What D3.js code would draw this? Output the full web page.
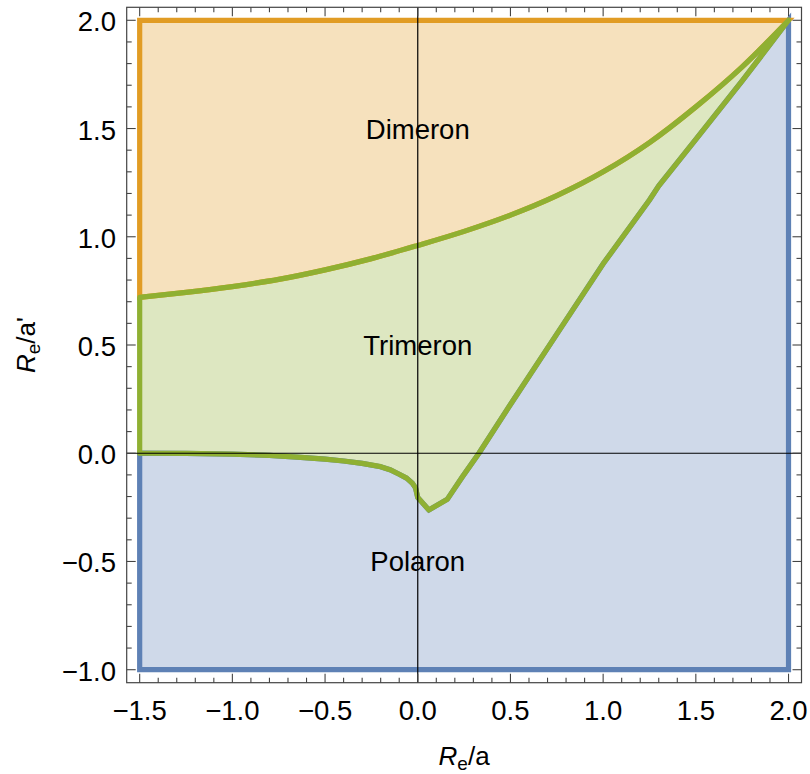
<!DOCTYPE html>
<html>
<head>
<meta charset="utf-8">
<script src="https://cdn.jsdelivr.net/npm/d3@7"></script>
<style>
  html, body { margin: 0; padding: 0; background: #ffffff; }
  svg { display: block; }
  text { font-family: "Liberation Sans", Arial, Helvetica, sans-serif; fill: #000; }
</style>
</head>
<body>
<svg id="chart" width="810" height="774"></svg>
<script>
// ---- data ----
const upperX = [-1.5, -1.25, -1.0, -0.75, -0.5, -0.25, 0, 0.25, 0.5, 0.75, 1.0, 1.25, 1.5, 1.75, 2.0];
const upperY = [0.72, 0.743, 0.77, 0.803, 0.847, 0.899, 0.96, 1.025, 1.10, 1.19, 1.30, 1.435, 1.60, 1.785, 2.0];

const lowerX = [-1.5, -1.25, -1.0, -0.8, -0.65, -0.5, -0.4, -0.3, -0.2, -0.15, -0.1, -0.06, -0.03, -0.012, 0.0, 0.06, 0.16, 0.24, 0.33, 0.5, 0.75, 1.0, 1.25, 1.3, 1.5, 1.75, 2.0];
const lowerY = [0, -0.001, -0.004, -0.01, -0.018, -0.027, -0.036, -0.047, -0.062, -0.076, -0.097, -0.115, -0.138, -0.16, -0.205, -0.262, -0.212, -0.11, 0, 0.225, 0.55, 0.875, 1.17, 1.235, 1.45, 1.72, 2.0];

const xRange = [-1.5, 2.0];
const yRange = [-1.0, 2.0];

const regionNames = ["Dimeron", "Trimeron", "Polaron"];
const regionLabelX = [0, 0, 0];
const regionLabelY = [1.5, 0.5, -0.5];

const xTickValues = [-1.5, -1.0, -0.5, 0.0, 0.5, 1.0, 1.5, 2.0];
const yTickValues = [-1.0, -0.5, 0.0, 0.5, 1.0, 1.5, 2.0];
const tickLabel = v => (v < 0 ? "\u2212" : "") + Math.abs(v).toFixed(1);

// ---- layout ----
const svg = d3.select("#chart");
const frame = { left: 126.7, right: 801.5, top: 7.3, bottom: 682.7 };
const padX = (xRange[1] - xRange[0]) * 0.02;
const padY = (yRange[1] - yRange[0]) * 0.02;
const x = d3.scaleLinear().domain([xRange[0] - padX, xRange[1] + padX]).range([frame.left, frame.right]);
const y = d3.scaleLinear().domain([yRange[0] - padY, yRange[1] + padY]).range([frame.bottom, frame.top]);

const colors = {
  blue: "#5E81B5", orange: "#E19C24", green: "#8FB032",
  blueFill: "#CFD9E9", orangeFill: "#F6E1BD", greenFill: "#DDE7C1"
};

const upper = upperX.map((v, i) => [v, upperY[i]]);
const lower = lowerX.map((v, i) => [v, lowerY[i]]);

const smooth = d3.line().x(d => x(d[0])).y(d => y(d[1])).curve(d3.curveMonotoneX);
const seg = d3.line().x(d => x(d[0])).y(d => y(d[1]));

const X0 = xRange[0], X1 = xRange[1], Y0 = yRange[0], Y1 = yRange[1];

const lowerPath = seg(lower);
const lowerRevPath = seg(lower.slice().reverse());
const upperPath = smooth(upper);
const upperRevPath = smooth(upper.slice().reverse());

// polaron (blue): below lower curve
const bluePath = seg([[X0, 0], [X0, Y0], [X1, Y0], [X1, Y1]]) + lowerRevPath.replace(/^M/, "L") + "Z";
// dimeron (orange): above upper curve
const orangePath = upperPath + seg([[X1, Y1], [X0, Y1], [X0, upper[0][1]]]).replace(/^M/, "L") + "Z";
// trimeron (green): between
const greenPath = lowerPath + upperRevPath.replace(/^M/, "L") + "Z";

const g = svg.append("g");

// fills
g.append("path").attr("d", bluePath).attr("fill", colors.blueFill);
g.append("path").attr("d", orangePath).attr("fill", colors.orangeFill);
g.append("path").attr("d", greenPath).attr("fill", colors.greenFill);

// boundaries
const sw = 5.2;
g.append("path").attr("d", bluePath).attr("fill", "none").attr("stroke", colors.blue)
  .attr("stroke-width", sw).attr("stroke-linejoin", "miter");
g.append("path").attr("d", orangePath).attr("fill", "none").attr("stroke", colors.orange)
  .attr("stroke-width", sw).attr("stroke-linejoin", "miter");
g.append("path").attr("d", greenPath).attr("fill", "none").attr("stroke", colors.green)
  .attr("stroke-width", sw).attr("stroke-linejoin", "round");

// axes lines through origin
g.append("line").attr("x1", x(0)).attr("x2", x(0)).attr("y1", frame.top).attr("y2", frame.bottom)
  .attr("stroke", "#000").attr("stroke-width", 1.2);
g.append("line").attr("x1", frame.left).attr("x2", frame.right).attr("y1", y(0)).attr("y2", y(0))
  .attr("stroke", "#000").attr("stroke-width", 1.2);

// region labels
regionNames.forEach((name, i) => {
  svg.append("text")
    .attr("x", x(regionLabelX[i])).attr("y", y(regionLabelY[i]) + 10)
    .attr("text-anchor", "middle")
    .style("font-size", "27.5px")
    .text(name);
});

// frame
const frameColor = "#444";
svg.append("rect")
  .attr("x", frame.left).attr("y", frame.top)
  .attr("width", frame.right - frame.left).attr("height", frame.bottom - frame.top)
  .attr("fill", "none").attr("stroke", frameColor).attr("stroke-width", 1.2);

// ticks
const majorLen = 9, minorLen = 5;
const xMinor = d3.range(-15, 21).map(i => i / 10).filter(v => !xTickValues.some(t => Math.abs(t - v) < 1e-9));
const yMinor = d3.range(-10, 21).map(i => i / 10).filter(v => !yTickValues.some(t => Math.abs(t - v) < 1e-9));

const tg = svg.append("g").attr("stroke", frameColor).attr("stroke-width", 1.1);
function xTick(v, len) {
  tg.append("line").attr("x1", x(v)).attr("x2", x(v)).attr("y1", frame.bottom).attr("y2", frame.bottom - len);
  tg.append("line").attr("x1", x(v)).attr("x2", x(v)).attr("y1", frame.top).attr("y2", frame.top + len);
}
function yTick(v, len) {
  tg.append("line").attr("y1", y(v)).attr("y2", y(v)).attr("x1", frame.left).attr("x2", frame.left + len);
  tg.append("line").attr("y1", y(v)).attr("y2", y(v)).attr("x1", frame.right).attr("x2", frame.right - len);
}
xTickValues.forEach(v => xTick(v, majorLen));
xMinor.forEach(v => xTick(v, minorLen));
yTickValues.forEach(v => yTick(v, majorLen));
yMinor.forEach(v => yTick(v, minorLen));

// tick labels
xTickValues.forEach(v => {
  svg.append("text").attr("x", x(v)).attr("y", 719.5)
    .attr("text-anchor", "middle").style("font-size", "27.5px").text(tickLabel(v));
});
yTickValues.forEach(v => {
  svg.append("text").attr("x", 116).attr("y", y(v) + 11)
    .attr("text-anchor", "end").style("font-size", "27.5px").text(tickLabel(v));
});

// axis labels
const xl = svg.append("text").attr("x", (frame.left + frame.right) / 2).attr("y", 765)
  .attr("text-anchor", "middle").style("font-size", "26px");
xl.append("tspan").style("font-style", "italic").text("R");
xl.append("tspan").attr("dy", 5).style("font-size", "19px").text("e");
xl.append("tspan").attr("dy", -5).text("/a");

const yl = svg.append("text")
  .attr("transform", `translate(35,${(frame.top + frame.bottom) / 2}) rotate(-90)`)
  .attr("text-anchor", "middle").style("font-size", "26px");
yl.append("tspan").style("font-style", "italic").text("R");
yl.append("tspan").attr("dy", 5).style("font-size", "19px").text("e");
yl.append("tspan").attr("dy", -5).text("/a'");
</script>
</body>
</html>
